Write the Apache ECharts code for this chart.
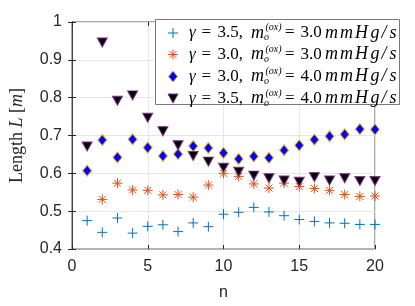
<!DOCTYPE html>
<html>
<head>
<meta charset="utf-8">
<script src="https://cdn.jsdelivr.net/npm/echarts@6/dist/echarts.min.js"></script>
<style>html,body{margin:0;padding:0;background:#fff}#c{width:415px;height:306px}</style>
</head>
<body>
<div id="c"></div>
<script>
var nValues = [1,2,3,4,5,6,7,8,9,10,11,12,13,14,15,16,17,18,19,20];
var s1 = [0.475,0.444,0.482,0.442,0.460,0.464,0.446,0.469,0.459,0.492,0.497,0.510,0.498,0.488,0.478,0.473,0.469,0.468,0.465,0.465];
var s2 = [0.399,0.531,0.574,0.556,0.555,0.543,0.544,0.537,0.569,0.600,0.592,0.572,0.561,0.574,0.565,0.560,0.555,0.544,0.539,0.540];
var s3 = [0.607,0.688,0.642,0.690,0.668,0.646,0.651,0.672,0.667,0.654,0.638,0.645,0.641,0.661,0.674,0.689,0.698,0.703,0.717,0.716];
var s4 = [0.671,0.946,0.792,0.806,0.747,0.711,0.674,0.646,0.631,0.615,0.604,0.594,0.587,0.581,0.578,0.590,0.581,0.587,0.580,0.580];
var gammaLabels = ['3.5','3.0','3.0','3.5'];
var moxLabels = ['3.0','3.0','4.0','4.0'];
var xTicks = [0,5,10,15,20];
var yTicks = [0.4,0.5,0.6,0.7,0.8,0.9,1];

function pairs(arr){ return arr.map(function(v,i){ return [nValues[i], v]; }); }

var plusPath = 'path://M0,5H10M5,0V10';
var starPath = 'path://M0,5H10M5,0V10M1.5,1.5L8.5,8.5M1.5,8.5L8.5,1.5';

var chart = echarts.init(document.getElementById('c'), null, {renderer:'canvas'});

var sans = 'Liberation Sans';
var serif = 'Liberation Serif';

var rowsY = [33, 54.5, 76.5, 98.5];
var g = [];
g.push({type:'rect', z:100, shape:{x:155.5, y:19.5, width:244, height:85}, style:{fill:'#fff', stroke:'#7a7a7a', lineWidth:1}});
var iconX = 173;
function t(x, y, text, font){
  return {type:'text', z:101, x:x, y:y, style:{text:text, font:font, fill:'#000', align:'left', verticalAlign:'middle', textAlign:'left', textVerticalAlign:'middle'}};
}
function ln(x1,y1,x2,y2,color){
  return {type:'line', z:101, shape:{x1:x1,y1:y1,x2:x2,y2:y2}, style:{stroke:color, lineWidth:1}};
}
for (var i=0;i<4;i++){
  var y = rowsY[i];
  if (i===0){
    g.push(ln(iconX-5,y,iconX+5,y,'#0072BD'));
    g.push(ln(iconX,y-5,iconX,y+5,'#0072BD'));
  } else if (i===1){
    g.push(ln(iconX-5,y,iconX+5,y,'#D95319'));
    g.push(ln(iconX,y-5,iconX,y+5,'#D95319'));
    g.push(ln(iconX-3.5,y-3.5,iconX+3.5,y+3.5,'#D95319'));
    g.push(ln(iconX-3.5,y+3.5,iconX+3.5,y-3.5,'#D95319'));
  } else if (i===2){
    g.push({type:'polygon', z:101, shape:{points:[[iconX,y-5.5],[iconX+4.5,y],[iconX,y+5.5],[iconX-4.5,y]]}, style:{fill:'#0000FF', stroke:'#EDB120', lineWidth:1}});
  } else {
    g.push({type:'polygon', z:101, shape:{points:[[iconX-5,y-4.5],[iconX+5,y-4.5],[iconX,y+4.5]]}, style:{fill:'#000', stroke:'#7E2F8E', lineWidth:1}});
  }
  var fN = '17px "' + serif + '"';
  var fI = 'italic 17px "' + serif + '"';
  var fM = 'italic 18px "' + serif + '"';
  var fS = 'italic 10px "' + serif + '"';
  g.push(t(189, y, 'γ', fI));
  g.push(t(201.5, y, '=', fN));
  g.push(t(217.5, y, gammaLabels[i] + ',', fN));
  g.push(t(251, y, 'm', fM));
  g.push(t(264, y+4.5, 'o', fS));
  g.push(t(265.5, y-5.5, '(ox)', fS));
  g.push(t(285, y, '=', fN));
  g.push(t(300.5, y, moxLabels[i], fN));
  var chars = ['m','m','H','g','/','s'];
  var cx = [325, 340, 355, 370.5, 381.5, 389.5];
  for (var k=0;k<chars.length;k++) g.push(t(cx[k], y, chars[k], fM));
}

var option = {
  animation:false,
  backgroundColor:'#fff',
  grid:{left:60, right:40, top:22, bottom:52, show:true, borderColor:'#555', borderWidth:1, containLabel:false},
  xAxis:[{
    type:'value', min:0, max:20, interval:5,
    name:'n', nameLocation:'middle', nameGap:36,
    nameTextStyle:{fontFamily:sans, fontSize:16, color:'#262626'},
    axisLine:{show:true, lineStyle:{color:'#b3b3b3', width:2}},
    axisTick:{show:true, inside:true, length:4, lineStyle:{color:'#262626'}},
    axisLabel:{fontFamily:sans, fontSize:16, color:'#262626', margin:10, formatter:function(v){return String(v);}},
    splitLine:{show:true, lineStyle:{color:'#e6e6e6', width:1}}
  },{
    type:'value', position:'top', min:0, max:20, interval:5,
    axisLine:{show:false}, axisTick:{show:true, inside:true, length:4, lineStyle:{color:'#262626'}},
    axisLabel:{show:false}, splitLine:{show:false}
  }],
  yAxis:[{
    type:'value', min:0.4, max:1, interval:0.1,
    name:'{a|Length }{b|L}{a| [}{b|m}{a|]}', nameLocation:'middle', nameGap:46, nameRotate:90,
    nameTextStyle:{rich:{a:{fontFamily:serif, fontSize:18, color:'#262626'}, b:{fontFamily:serif, fontStyle:'italic', fontSize:18, color:'#262626'}}},
    axisLine:{show:true, lineStyle:{color:'#444', width:1}},
    axisTick:{show:true, inside:true, length:4, lineStyle:{color:'#262626'}},
    axisLabel:{fontFamily:sans, fontSize:16, color:'#262626', margin:10, formatter:function(v){var r=Math.round(v*10)/10; return r===1?'1':r.toFixed(1);}},
    splitLine:{show:true, lineStyle:{color:'#e6e6e6', width:1}}
  },{
    type:'value', position:'right', min:0.4, max:1, interval:0.1,
    axisLine:{show:true, lineStyle:{color:'#444', width:1}}, axisTick:{show:true, inside:true, length:4, lineStyle:{color:'#262626'}},
    axisLabel:{show:false}, splitLine:{show:false}
  }],
  series:[
    {name:'γ = 3.5, m_o^(ox) = 3.0 mmHg/s', type:'scatter', data:pairs(s1), symbol:plusPath, symbolSize:10,
     itemStyle:{color:'rgba(0,0,0,0)', borderColor:'#0072BD', borderWidth:1, opacity:1}},
    {name:'γ = 3.0, m_o^(ox) = 3.0 mmHg/s', type:'scatter', data:pairs(s2), symbol:starPath, symbolSize:10,
     itemStyle:{color:'rgba(0,0,0,0)', borderColor:'#D95319', borderWidth:1, opacity:1}},
    {name:'γ = 3.0, m_o^(ox) = 4.0 mmHg/s', type:'scatter', data:pairs(s3), symbol:'diamond', symbolSize:[9,11],
     itemStyle:{color:'#0000FF', borderColor:'#EDB120', borderWidth:1, opacity:1}},
    {name:'γ = 3.5, m_o^(ox) = 4.0 mmHg/s', type:'scatter', data:pairs(s4), symbol:'triangle', symbolRotate:180, symbolSize:[10,9],
     itemStyle:{color:'#000000', borderColor:'#7E2F8E', borderWidth:1, opacity:1}}
  ],
  graphic:g
};
chart.setOption(option);
</script>
</body>
</html>
